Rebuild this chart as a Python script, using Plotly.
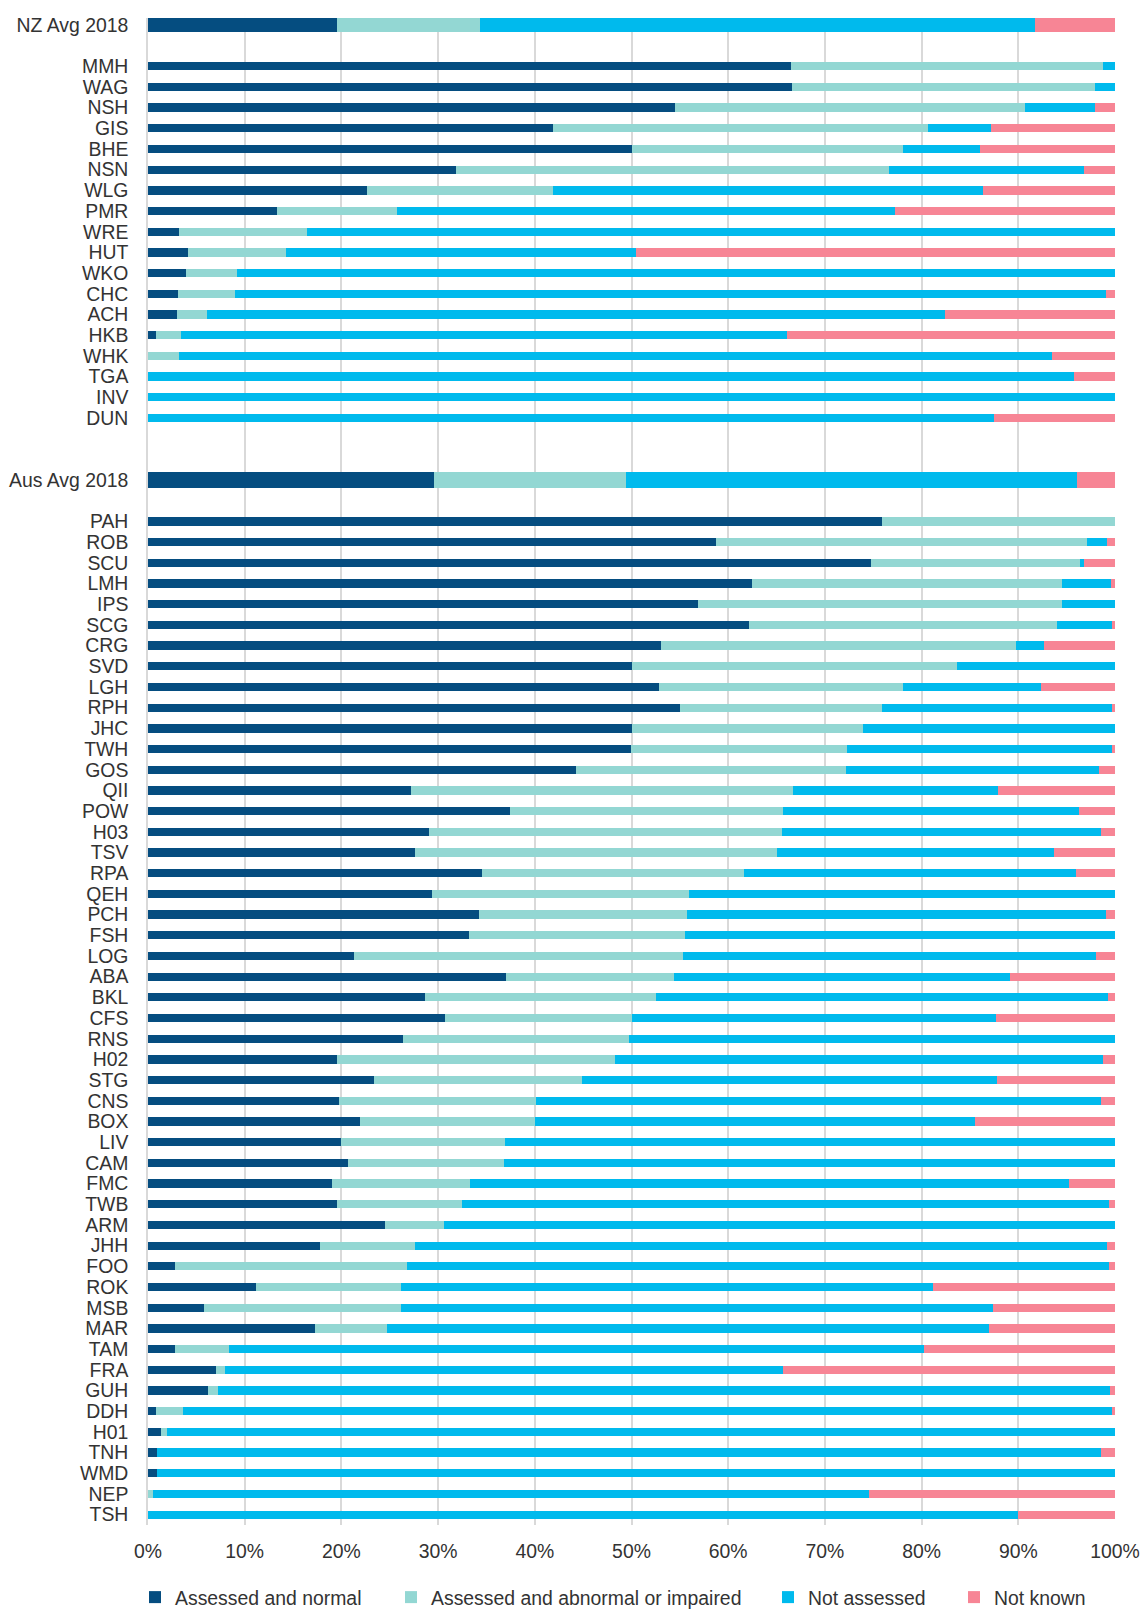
import plotly.graph_objects as go

# ---------------- data ----------------
series_names = ["Assessed and normal", "Assessed and abnormal or impaired", "Not assessed", "Not known"]

nz_avg_label = ["NZ Avg 2018"]
nz_avg_normal = [19.5]
nz_avg_abnormal = [14.8]
nz_avg_not_assessed = [57.4]
nz_avg_not_known = [8.3]

nz_hospitals = ["MMH", "WAG", "NSH", "GIS", "BHE", "NSN", "WLG", "PMR", "WRE", "HUT",
                "WKO", "CHC", "ACH", "HKB", "WHK", "TGA", "INV", "DUN"]
nz_normal = [66.5, 66.6, 54.5, 41.9, 50.0, 31.9, 22.6, 13.3, 3.2, 4.1,
             3.9, 3.1, 3.0, 0.8, 0.0, 0.0, 0.0, 0.0]
nz_abnormal = [32.3, 31.3, 36.2, 38.8, 28.1, 44.7, 19.3, 12.5, 13.2, 10.2,
               5.3, 5.9, 3.1, 2.6, 3.2, 0.0, 0.0, 0.0]
nz_not_assessed = [1.2, 2.1, 7.2, 6.5, 7.9, 20.2, 44.4, 51.5, 83.6, 36.2,
                   90.8, 90.1, 76.3, 62.7, 90.3, 95.8, 100.0, 87.5]
nz_not_known = [0.0, 0.0, 2.1, 12.8, 14.0, 3.2, 13.7, 22.7, 0.0, 49.5,
                0.0, 0.9, 17.6, 33.9, 6.5, 4.2, 0.0, 12.5]

aus_avg_label = ["Aus Avg 2018"]
aus_avg_normal = [29.6]
aus_avg_abnormal = [19.8]
aus_avg_not_assessed = [46.7]
aus_avg_not_known = [3.9]

aus_hospitals = ["PAH", "ROB", "SCU", "LMH", "IPS", "SCG", "CRG", "SVD", "LGH", "RPH",
                 "JHC", "TWH", "GOS", "QII", "POW", "H03", "TSV", "RPA", "QEH", "PCH",
                 "FSH", "LOG", "ABA", "BKL", "CFS", "RNS", "H02", "STG", "CNS", "BOX",
                 "LIV", "CAM", "FMC", "TWB", "ARM", "JHH", "FOO", "ROK", "MSB", "MAR",
                 "TAM", "FRA", "GUH", "DDH", "H01", "TNH", "WMD", "NEP", "TSH"]
aus_normal = [75.9, 58.7, 74.8, 62.5, 56.9, 62.1, 53.0, 50.0, 52.8, 55.0,
              50.0, 49.9, 44.3, 27.2, 37.4, 29.1, 27.6, 34.5, 29.4, 34.2,
              33.2, 21.3, 37.0, 28.6, 30.7, 26.4, 19.5, 23.4, 19.8, 21.9,
              20.0, 20.7, 19.0, 19.5, 24.5, 17.8, 2.8, 11.2, 5.8, 17.3,
              2.8, 7.0, 6.2, 0.8, 1.3, 0.9, 0.9, 0.0, 0.0]
aus_abnormal = [24.1, 38.4, 21.6, 32.0, 37.6, 31.9, 36.8, 33.7, 25.3, 20.9,
                23.9, 22.4, 27.9, 39.5, 28.3, 36.5, 37.4, 27.1, 26.5, 21.5,
                22.3, 34.0, 17.4, 23.9, 19.3, 23.3, 28.8, 21.5, 20.3, 18.1,
                16.9, 16.1, 14.3, 13.0, 6.1, 9.8, 24.0, 15.0, 20.4, 7.4,
                5.6, 1.0, 1.0, 2.8, 0.7, 0.0, 0.0, 0.5, 0.0]
aus_not_assessed = [0.0, 2.1, 0.4, 5.1, 5.5, 5.7, 2.9, 16.3, 14.2, 23.8,
                    26.1, 27.4, 26.1, 21.2, 30.6, 33.0, 28.7, 34.4, 44.1, 43.4,
                    44.5, 42.7, 34.7, 46.8, 37.7, 50.3, 50.5, 42.9, 58.4, 45.5,
                    63.1, 63.2, 61.9, 66.9, 69.4, 71.6, 72.6, 55.0, 61.2, 62.3,
                    71.8, 57.7, 92.3, 96.1, 98.0, 97.6, 99.1, 74.1, 90.0]
aus_not_known = [0.0, 0.8, 3.2, 0.4, 0.0, 0.3, 7.3, 0.0, 7.7, 0.3,
                 0.0, 0.3, 1.7, 12.1, 3.7, 1.4, 6.3, 4.0, 0.0, 0.9,
                 0.0, 2.0, 10.9, 0.7, 12.3, 0.0, 1.2, 12.2, 1.5, 14.5,
                 0.0, 0.0, 4.8, 0.6, 0.0, 0.8, 0.6, 18.8, 12.6, 13.0,
                 19.8, 34.3, 0.5, 0.3, 0.0, 1.5, 0.0, 25.4, 10.0]

# ---------------- styles ----------------
colors = ["#054D80", "#93D7D3", "#00BAED", "#F78595"]
group_bar_width = [0.65, 0.40, 0.76, 0.40]
gap_rows_before = [0, 1, 2, 1]
text_color = "#333333"
font_family = "Liberation Sans, Arial, sans-serif"
font_size = 19.4

groups = [
    (nz_avg_label, [nz_avg_normal, nz_avg_abnormal, nz_avg_not_assessed, nz_avg_not_known]),
    (nz_hospitals, [nz_normal, nz_abnormal, nz_not_assessed, nz_not_known]),
    (aus_avg_label, [aus_avg_normal, aus_avg_abnormal, aus_avg_not_assessed, aus_avg_not_known]),
    (aus_hospitals, [aus_normal, aus_abnormal, aus_not_assessed, aus_not_known]),
]

# row positions (with blank spacer rows between groups)
labels, positions, widths = [], [], []
series_vals = [[], [], [], []]
row = -1
for gi, (cats, vals) in enumerate(groups):
    row += gap_rows_before[gi]
    for ci, cat in enumerate(cats):
        row += 1
        labels.append(cat)
        positions.append(row)
        widths.append(group_bar_width[gi])
        for si in range(4):
            series_vals[si].append(vals[si][ci])

fig = go.Figure()
legend_ids = ["legend", "legend2", "legend3", "legend4"]
for si, name in enumerate(series_names):
    fig.add_trace(go.Bar(
        y=positions, x=series_vals[si], orientation="h", name=name,
        width=widths, marker=dict(color=colors[si], line=dict(width=0)),
        legend=legend_ids[si], showlegend=True,
    ))

W, H = 1143, 1611
ml, mr, mt, mb = 148, 28, 18, 86
pw = W - ml - mr
ph = H - mt - mb
legend_text_px = [172, 428, 805, 991]
legend_bottom_px = 1617

def leg(px):
    return dict(
        orientation="h", x=(px - 37 - ml) / pw, xanchor="left",
        y=-(legend_bottom_px - (H - mb)) / ph, yanchor="bottom",
        bgcolor="rgba(0,0,0,0)", borderwidth=0,
        font=dict(family=font_family, size=font_size, color=text_color),
    )

fig.update_layout(
    template="none",
    width=W, height=H,
    margin=dict(l=ml, r=mr, t=mt, b=mb, pad=0, autoexpand=False),
    paper_bgcolor="white", plot_bgcolor="white",
    barmode="stack", showlegend=True,
    font=dict(family=font_family, size=font_size, color=text_color),
    xaxis=dict(range=[0, 100], dtick=10, ticksuffix="%", showgrid=True,
               gridcolor="#D9D9D9", gridwidth=1.5, zeroline=False, automargin=False,
               showline=False, ticks="outside", ticklen=9, tickcolor="rgba(0,0,0,0)",
               tickfont=dict(family=font_family, size=font_size, color=text_color)),
    yaxis=dict(range=[row + 0.5, -0.33], tickvals=positions, ticktext=labels,
               showgrid=False, zeroline=False, showline=True, automargin=False,
               linecolor="#D9D9D9", linewidth=1.5,
               ticks="outside", ticklen=14, tickcolor="rgba(0,0,0,0)",
               tickfont=dict(family=font_family, size=font_size, color=text_color)),
    legend=leg(legend_text_px[0]),
    legend2=leg(legend_text_px[1]),
    legend3=leg(legend_text_px[2]),
    legend4=leg(legend_text_px[3]),
)

fig.write_html("out.html", config={"displayModeBar": False},
               post_script="document.body.style.margin='0';")
